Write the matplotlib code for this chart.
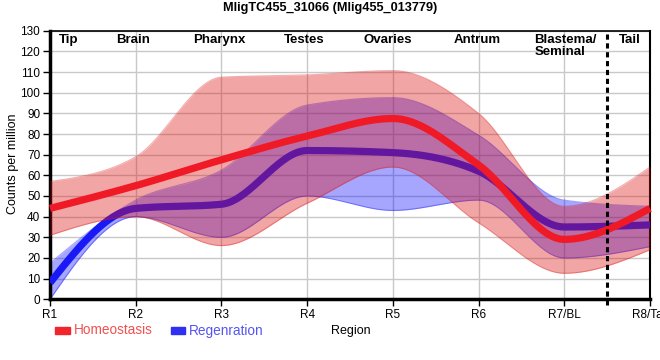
import numpy as np
import matplotlib
matplotlib.use("Agg")
import matplotlib.pyplot as plt
from matplotlib.patches import Rectangle

# ---------------- data ----------------
regions = ["R1", "R2", "R3", "R4", "R5", "R6", "R7/BL", "R8/Tail"]
region_names = ["Tip", "Brain", "Pharynx", "Testes", "Ovaries", "Antrum", "Blastema/\nSeminal", "Tail"]
name_pos = [1.22, 1.97, 2.98, 3.96, 4.94, 5.98, 6.65, 7.77]

homeo_mean = [44, 55, 67.5, 79, 87.5, 65, 29, 44]
homeo_upper = [57, 69, 107.5, 108.6, 110.7, 90, 45, 64]
homeo_lower = [31, 40, 26, 46.5, 64, 37, 12.6, 24]

regen_mean = [8, 44, 46, 72, 71, 62, 35, 36]
regen_upper = [17.5, 48, 62.5, 94, 97.6, 79.5, 48, 45]
regen_lower = [0, 40, 30, 50, 43, 48, 20, 25.5]

title = "MligTC455_31066 (Mlig455_013779)"


# ------------- d3 curveMonotoneX style smoothing -------------
def monotone_curve(xs, ys, n=60):
    xs = np.asarray(xs, float)
    ys = np.asarray(ys, float)
    k = len(xs)
    h = np.diff(xs)
    d = np.diff(ys) / h
    m = np.zeros(k)
    for i in range(1, k - 1):
        s0, s1 = d[i - 1], d[i]
        p = (s0 * h[i] + s1 * h[i - 1]) / (h[i - 1] + h[i])
        m[i] = (np.sign(s0) + np.sign(s1)) * min(abs(s0), abs(s1), 0.5 * abs(p))
    m[0] = (3 * d[0] - m[1]) / 2
    m[-1] = (3 * d[-1] - m[-2]) / 2
    ox, oy = [], []
    for i in range(k - 1):
        t = np.linspace(0, 1, n, endpoint=(i == k - 2))
        h00 = 2 * t**3 - 3 * t**2 + 1
        h10 = t**3 - 2 * t**2 + t
        h01 = -2 * t**3 + 3 * t**2
        h11 = t**3 - t**2
        ox.append(xs[i] + t * h[i])
        oy.append(h00 * ys[i] + h10 * h[i] * m[i] + h01 * ys[i + 1] + h11 * h[i] * m[i + 1])
    return np.concatenate(ox), np.concatenate(oy)


plt.rcParams['font.family'] = ['Liberation Sans', 'DejaVu Sans']

fig = plt.figure(figsize=(6.6, 3.6), dpi=100)
ax = fig.add_axes([50 / 660, (360 - 299.3) / 360, 600 / 660, (299.3 - 30.7) / 360])

x = np.arange(1, len(regions) + 1)

red_band = (220 / 255, 20 / 255, 20 / 255)
blue_band = (0, 0, 1)
red_line = "#F01A26"
blue_line = "#1919F5"

# regeneration band + line (underneath)
bx, bu = monotone_curve(x, regen_upper)
_, bl = monotone_curve(x, regen_lower)
ax.fill_between(bx, bl, bu, color=blue_band, alpha=0.35, lw=0, zorder=2)
ax.plot(bx, bu, color=blue_band, alpha=0.35, lw=0.8, zorder=2)
ax.plot(bx, bl, color=blue_band, alpha=0.35, lw=0.8, zorder=2)
mx, mb = monotone_curve(x, regen_mean)
ax.plot(mx, mb, color=blue_line, lw=5.2, solid_capstyle='butt', zorder=3)

# homeostasis band + line (on top)
rx, ru = monotone_curve(x, homeo_upper)
_, rl = monotone_curve(x, homeo_lower)
ax.fill_between(rx, rl, ru, color=red_band, alpha=0.38, lw=0, zorder=4)
ax.plot(rx, ru, color=red_band, alpha=0.35, lw=0.8, zorder=4)
ax.plot(rx, rl, color=red_band, alpha=0.35, lw=0.8, zorder=4)
_, mr = monotone_curve(x, homeo_mean)
ax.plot(mx, mr, color=red_line, lw=5.2, solid_capstyle='butt', zorder=5, clip_on=False)

# axes styling
ax.set_xlim(1, 8)
ax.set_ylim(0, 130)
ax.set_xticks(x)
ax.set_xticklabels(regions)
ax.set_yticks(np.arange(0, 131, 10))
ax.grid(True, color="#C8C8C8", lw=1, zorder=0)
ax.set_axisbelow(True)
for lab in ax.get_xticklabels() + ax.get_yticklabels():
    lab.set_fontsize(8.5)
    lab.set_color("black")
ax.tick_params(axis='both', length=5, width=1, color='black', pad=2)
ax.spines['left'].set_linewidth(2.5)
ax.spines['bottom'].set_linewidth(2.5)
ax.spines['top'].set_linewidth(1.2)
ax.spines['right'].set_linewidth(1.5)

# dashed separator
ax.plot([7.5, 7.5], [-2.8, 130], color='black', lw=2.2, ls=(0, (1.7, 1.2)), clip_on=False, zorder=6)

# region names
for nm, p in zip(region_names, name_pos):
    if "\n" in nm:
        ax.text(p, 128.2, nm, ha='left', va='top', fontsize=9.5, fontweight='bold', linespacing=1.0, zorder=7)
    else:
        ax.text(p, 128.2, nm, ha='center', va='top', fontsize=9.5, fontweight='bold', zorder=7)

fig.text(13 / 660, 1 - 164 / 360, "Counts per million", rotation=90, ha='center', va='center', fontsize=9)
fig.text(351 / 660, 1 - 331 / 360, "Region", ha='center', va='center', fontsize=9)
fig.text(330 / 660, 1 - 8.5 / 360, title, ha='center', va='center', fontsize=9.2, fontweight='bold')

# legend
fig.patches.append(Rectangle((55 / 660, (360 - 334) / 360), 15 / 660, 7 / 360,
                             transform=fig.transFigure, color="#F0262C"))
fig.text(74 / 660, 1 - 330.5 / 360, "Homeostasis", ha='left', va='center', fontsize=9.8, color="#F25050")
fig.patches.append(Rectangle((171 / 660, (360 - 334) / 360), 14 / 660, 7 / 360,
                             transform=fig.transFigure, color="#3030F0"))
fig.text(189 / 660, 1 - 330.5 / 360, "Regenration", ha='left', va='center', fontsize=9.8, color="#5555F0")

fig.savefig("out.png", dpi=100)
